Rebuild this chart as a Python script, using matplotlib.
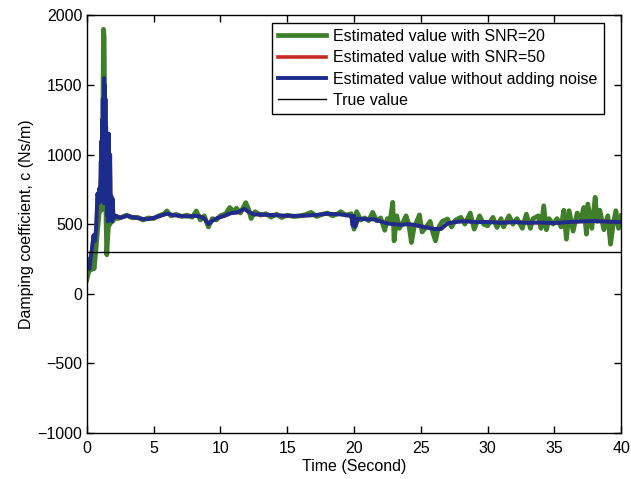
import numpy as np
import matplotlib
matplotlib.use("Agg")
import matplotlib.pyplot as plt

plt.rcParams['font.family'] = ['Liberation Sans', 'DejaVu Sans']

# estimate without noise (blue)
t_clean = [0, 0.1, 0.2, 0.3, 0.4, 0.5, 0.6, 0.7, 0.8, 0.9, 0.95, 1.0, 1.05, 1.08, 1.1,
           1.13, 1.15, 1.18, 1.2, 1.23, 1.25, 1.28, 1.3, 1.33, 1.35, 1.38, 1.4, 1.43,
           1.45, 1.48, 1.5, 1.53, 1.55, 1.58, 1.6, 1.63, 1.65, 1.7, 1.75, 1.8, 1.85,
           1.9, 1.95, 2.0, 2.2, 2.5, 3.0, 3.5, 4.0, 4.5, 5.0, 5.5, 6.0, 6.5, 7.0, 7.5,
           8.0, 8.5, 8.8, 9.1, 9.4, 9.8, 10.3, 10.8, 11.3, 11.8, 12.1, 12.5, 13, 14, 15,
           16, 17, 18, 19, 19.8, 19.9, 20.0, 20.1, 20.3, 21, 21.5, 22, 22.5, 23, 23.5,
           24, 24.5, 25, 25.5, 26, 26.5, 27, 27.5, 28, 28.5, 29, 30, 31, 32, 33, 34, 35,
           36, 37, 38, 39, 40]
c_clean = [200, 200, 180, 260, 330, 420, 380, 470, 720, 650, 760, 680, 950, 700, 1100,
           680, 1250, 700, 1400, 660, 1350, 650, 1550, 700, 1500, 660, 1400, 650,
           1200, 640, 1000, 560, 1150, 520, 1100, 600, 1150, 560, 1000, 560, 700,
           520, 680, 540, 560, 545, 560, 550, 540, 535, 545, 560, 575, 565, 560, 555,
           560, 555, 540, 500, 525, 545, 560, 580, 585, 610, 590, 570, 570, 565, 560,
           560, 565, 575, 570, 560, 490, 560, 480, 540, 535, 535, 520, 505, 500, 495,
           500, 495, 485, 475, 465, 465, 505, 515, 520, 520, 515, 515, 510, 515, 510, 512,
           508, 515, 520, 522, 518, 515]

# estimate with SNR=50 (red, lies under the blue one)
c_snr50 = [205, 195, 185, 255, 335, 415, 385, 465, 715, 655, 755, 685, 940, 705, 1090,
           685, 1240, 705, 1390, 665, 1340, 655, 1540, 705, 1490, 665, 1390, 655,
           1190, 645, 990, 565, 1140, 525, 1090, 605, 1140, 565, 990, 565, 695,
           525, 675, 545, 558, 546, 558, 551, 541, 536, 546, 559, 574, 566, 559, 556,
           559, 556, 541, 502, 526, 546, 559, 579, 584, 608, 589, 571, 569, 566, 559,
           561, 564, 574, 571, 559, 492, 558, 483, 539, 536, 534, 521, 506, 501, 496,
           501, 494, 486, 476, 466, 466, 504, 514, 519, 521, 514, 516, 511, 514, 511, 511,
           509, 514, 519, 521, 519, 514]

# estimate with SNR=20 (green)
t_snr20 = [0, 0.15, 0.2, 0.3, 0.45, 0.55, 0.7, 0.8, 0.9, 1.0, 1.1, 1.2, 1.25, 1.3, 1.35,
           1.4, 1.45, 1.5, 1.55, 1.6, 1.7, 1.75, 1.85, 1.95, 2.1, 2.3, 2.6, 3.0, 3.4,
           3.8, 4.2, 4.6, 5.0, 5.4, 5.8, 6.0, 6.3, 6.7, 7.1, 7.5, 7.9, 8.2, 8.5, 8.8,
           9.1, 9.4, 9.7, 10.0, 10.4, 10.7, 11.0, 11.2, 11.5, 11.9, 12.1, 12.3, 12.6,
           13.0, 13.4, 13.8, 14.2, 14.6, 15.0, 15.5, 16.0, 16.4, 16.8, 17.2, 17.6,
           18.0, 18.4, 18.8, 19.0, 19.4, 19.8, 20.0, 20.2, 20.5, 20.8, 21.1, 21.4,
           21.7, 22.0, 22.3, 22.5, 22.7, 22.9, 23.0, 23.2, 23.4, 23.7, 23.9, 24.1,
           24.3, 24.5, 24.7, 24.9, 25.1, 25.4, 25.7, 25.9, 26.1, 26.3, 26.6, 27.0,
           27.3, 27.6, 28.0, 28.3, 28.7, 29.0, 29.4, 29.7, 30.0, 30.4, 30.7, 31.0,
           31.2, 31.6, 31.9, 32.2, 32.6, 32.9, 33.2, 33.4, 33.8, 34.0, 34.2, 34.4,
           34.6, 34.9, 35.2, 35.5, 35.7, 35.9, 36.1, 36.4, 36.7, 37.0, 37.2, 37.4,
           37.5, 37.8, 38.05, 38.2, 38.4, 38.7, 39.0, 39.2, 39.4, 39.6, 39.8, 40.0]
c_snr20 = [100, 160, 250, 170, 230, 180, 330, 450, 550, 650, 600, 1200, 1900, 1850, 1200,
           900, 500, 280, 380, 450, 600, 500, 590, 520, 560, 540, 550, 565, 545,
           550, 530, 545, 540, 560, 575, 595, 560, 570, 555, 565, 550, 595, 530, 560,
           480, 540, 530, 560, 575, 620, 590, 615, 580, 655, 610, 540, 590,
           565, 575, 550, 572, 548, 565, 555, 560, 570, 585, 555, 570,
           580, 560, 575, 590, 565, 575, 464, 590, 530, 545, 525, 585,
           524, 545, 456, 540, 520, 657, 380, 560, 470, 520, 560, 500,
           368, 480, 520, 567, 444, 480, 520, 440, 380, 470, 520, 537,
           480, 530, 549, 500, 580, 464, 560, 500, 488, 549, 476, 540,
           480, 560, 500, 540, 470, 572, 470, 540, 560, 470, 632, 460,
           540, 500, 540, 480, 600, 392, 597, 450, 580, 540, 620, 428,
           645, 470, 693, 520, 600, 460, 560, 356, 500, 597, 470, 560]

# true value
t_true = [0, 40]
c_true = [300, 300]

x_ticks = [0, 5, 10, 15, 20, 25, 30, 35, 40]
y_ticks = [-1000, -500, 0, 500, 1000, 1500, 2000]

fig = plt.figure(figsize=(6.31, 4.79), dpi=100)
ax = fig.add_axes([0.1375, 0.096, 0.847, 0.872])

ax.plot(t_snr20, c_snr20, color='#3f7f2a', lw=3.4, label='Estimated value with SNR=20')
ax.plot(t_clean, c_snr50, color='#c42a22', lw=2.6, label='Estimated value with SNR=50')
ax.plot(t_clean, c_clean, color='#1c2c8c', lw=2.8, label='Estimated value without adding noise')
ax.plot(t_true, c_true, color='black', lw=1.0, label='True value')

ax.set_xlim(0, 40)
ax.set_ylim(-1000, 2000)
ax.set_xticks(x_ticks)
ax.set_yticks(y_ticks)
ax.set_yticklabels([str(v).replace('-', '\u2212') for v in y_ticks])
ax.tick_params(direction='in', top=True, right=True, length=5, width=1,
               labelsize=11.5)
ax.tick_params(axis='x', pad=6)
ax.tick_params(axis='y', pad=3)
for s in ax.spines.values():
    s.set_linewidth(1.0)

ax.set_xlabel('Time (Second)', fontsize=11.5, labelpad=2)
ax.set_ylabel('Damping coefficient, c (Ns/m)', fontsize=11.5, labelpad=3)

leg = ax.legend(loc='upper right', bbox_to_anchor=(0.957, 0.953),
                bbox_transform=fig.transFigure, borderaxespad=0,
                fontsize=11.5, handlelength=3.0, labelspacing=0.4,
                handletextpad=0.45, borderpad=0.4, fancybox=False,
                framealpha=1, edgecolor='black')
leg.get_frame().set_linewidth(1.0)

fig.savefig('out.png', dpi=100)
